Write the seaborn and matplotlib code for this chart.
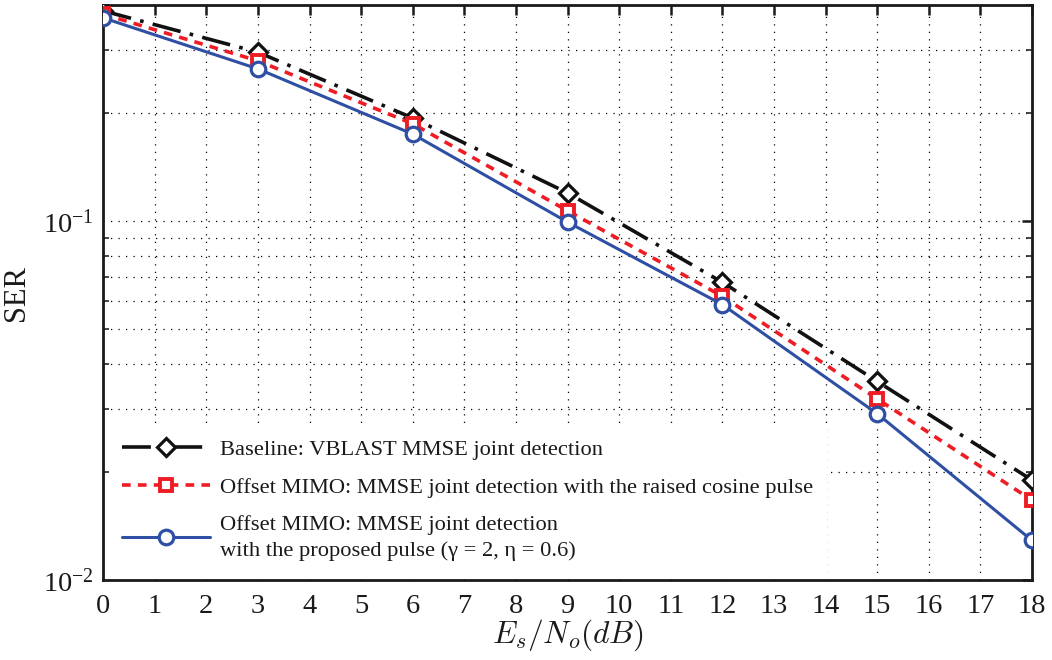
import numpy as np
import pandas as pd
import matplotlib
matplotlib.use("Agg")
import matplotlib.pyplot as plt
from matplotlib.ticker import LogLocator, LogFormatterMathtext, NullFormatter
import seaborn as sns

# SNR points (dB) and symbol error rates
snr_db = [0, 3, 6, 9, 12, 15, 18]
ser_vblast = [0.386, 0.296, 0.194, 0.120, 0.0676, 0.0358, 0.0190]
ser_raised_cosine = [0.378, 0.280, 0.187, 0.107, 0.0618, 0.0320, 0.0167]
ser_proposed = [0.369, 0.266, 0.175, 0.0995, 0.0586, 0.0291, 0.0129]

labels = [
    "Baseline: VBLAST MMSE joint detection",
    "Offset MIMO: MMSE joint detection with the raised cosine pulse",
    "Offset MIMO: MMSE joint detection\nwith the proposed pulse (\u03b3 = 2, \u03b7 = 0.6)",
]
x_ticks = list(range(0, 19))

sns.set_theme(style="white")
plt.rcParams["font.family"] = ["Liberation Serif", "DejaVu Serif"]
plt.rcParams["mathtext.fontset"] = "stix"
plt.rcParams["xtick.direction"] = "in"
plt.rcParams["ytick.direction"] = "in"

fig = plt.figure(figsize=(10.52, 6.6), dpi=100)
ax = fig.add_axes([0.098, 0.121, 0.883, 0.871])

styles = [
    dict(color="#111111", marker="D", ms=9.5, lw=2.6, dashes=(8, 2.6, 1, 2.6),
         mfc="white", mec="#111111", mew=2.3),
    dict(color="#ee1c24", marker="s", ms=8.5, lw=2.6, dashes=(2.4, 2.0),
         mfc="white", mec="#ee1c24", mew=2.8),
    dict(color="#2e4fa3", marker="o", ms=10.5, lw=2.2, dashes=None,
         mfc="white", mec="#2e4fa3", mew=2.3),
]
series = [ser_vblast, ser_raised_cosine, ser_proposed]

for values, label, st in zip(series, labels, styles):
    df = pd.DataFrame({"snr": snr_db, "ser": values})
    sns.lineplot(data=df, x="snr", y="ser", ax=ax, label=label,
                 color=st["color"], lw=st["lw"], marker=st["marker"],
                 markersize=st["ms"], markerfacecolor=st["mfc"],
                 markeredgecolor=st["mec"], markeredgewidth=st["mew"],
                 zorder=3, clip_on=True)
    line = ax.get_lines()[-1]
    if st["dashes"] is not None:
        line.set_dashes(st["dashes"])
    line.set_dash_capstyle("butt")

ax.set_yscale("log")
ax.set_xlim(0, 18)
ax.set_ylim(0.01, 0.4)
ax.set_xticks(x_ticks)
ax.set_xticklabels([str(t) for t in x_ticks])
ax.yaxis.set_major_locator(LogLocator(base=10))
ax.yaxis.set_major_formatter(LogFormatterMathtext())
ax.yaxis.set_minor_locator(LogLocator(base=10, subs=np.arange(2, 10)))
ax.yaxis.set_minor_formatter(NullFormatter())

grid_style = dict(color="black", linestyle=(0, (1, 5)), linewidth=0.9)
ax.grid(True, which="major", axis="both", **grid_style)
ax.grid(True, which="minor", axis="y", **grid_style)
ax.set_axisbelow(True)

for sp in ax.spines.values():
    sp.set_linewidth(2.0)
    sp.set_color("#1a1a1a")
    sp.set_visible(True)

ax.tick_params(axis="both", which="major", direction="in", length=7, width=1.8,
               top=True, right=True, labelsize=20.5, pad=7, colors="#1a1a1a")
ax.tick_params(axis="x", which="major", pad=10)
ax.tick_params(axis="y", which="minor", direction="in", length=4, width=1.2,
               left=True, right=True)

ax.set_ylabel("SER", fontsize=22, labelpad=8, color="#1a1a1a")
ax.set_xlabel(r"$E_s/N_o(dB)$", fontsize=22.5, labelpad=-1, color="#1a1a1a",
              math_fontfamily="cm")

leg = ax.legend(loc="lower left", bbox_to_anchor=(0.0, 0.0), fontsize=16.2,
                handlelength=3.9, handletextpad=0.45, labelspacing=0.75,
                borderaxespad=0.25, borderpad=0.6, frameon=True, fancybox=False,
                facecolor="white", edgecolor="white", framealpha=1.0)
leg.get_frame().set_linewidth(0)
for t in leg.get_texts():
    t.set_color("#1a1a1a")
    t.set_linespacing(1.45)

fig.savefig("out.png", dpi=100, facecolor="white")
